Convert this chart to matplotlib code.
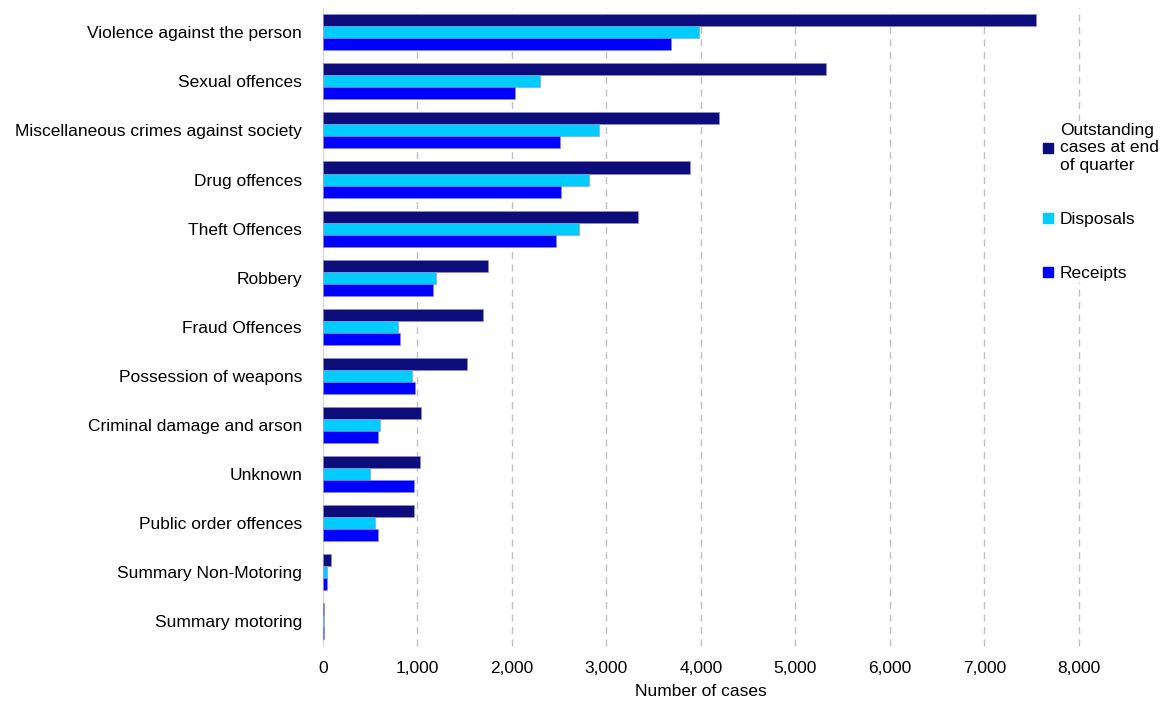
import numpy as np
import matplotlib.pyplot as plt
from matplotlib.lines import Line2D

plt.rcParams['font.family'] = ['Liberation Sans', 'DejaVu Sans']

categories = ["Violence against the person", "Sexual offences",
              "Miscellaneous crimes against society", "Drug offences",
              "Theft Offences", "Robbery", "Fraud Offences",
              "Possession of weapons", "Criminal damage and arson", "Unknown",
              "Public order offences", "Summary Non-Motoring", "Summary motoring"]

outstanding = [7550, 5330, 4195, 3890, 3340, 1745, 1690, 1530, 1040, 1030, 960, 88, 12]
disposals = [3980, 2300, 2925, 2815, 2715, 1195, 790, 940, 600, 500, 550, 40, 10]
receipts = [3685, 2030, 2510, 2525, 2470, 1170, 820, 970, 585, 965, 580, 45, 12]

series_names = ["Outstanding\ncases at end\nof quarter", "Disposals", "Receipts"]
colors = ["#0C0C7A", "#00CCFF", "#0000FF"]

fs = 12.5

fig = plt.figure(figsize=(11.7, 7.02), dpi=100)
ax = fig.add_axes([0.276, 0.080, 0.646, 0.909])

y = np.arange(len(categories))
h = 0.245
for i, (vals, col) in enumerate(zip([outstanding, disposals, receipts], colors)):
    ax.barh(y + (i - 1) * h, vals, height=h, color=col,
            edgecolor="#9090d0", linewidth=0.4, zorder=3)

ax.set_ylim(len(categories) - 0.5, -0.5)
ax.set_xlim(0, 8000)
ax.set_yticks(y)
ax.set_yticklabels(categories, fontsize=fs)
ax.set_xticks(np.arange(0, 8001, 1000))
ax.set_xticklabels([f"{v:,}" for v in range(0, 8001, 1000)], fontsize=fs)
ax.tick_params(axis='both', length=0)
ax.tick_params(axis='y', pad=15)
ax.tick_params(axis='x', pad=11)
ax.set_xlabel("Number of cases", fontsize=fs, labelpad=6)

for s in ["top", "right", "bottom"]:
    ax.spines[s].set_visible(False)
ax.spines["left"].set_color("#D9D9D9")
ax.spines["left"].set_linewidth(1)
ax.grid(axis='x', color="#C0C0C0", linestyle=(0, (5, 4)), linewidth=1, zorder=0)
gls = ax.xaxis.get_gridlines()
gls[0].set_visible(False)
for gl in gls:
    gl.set_clip_on(False)

handles = [Line2D([], [], marker='s', linestyle='none', markersize=7, color=c) for c in colors]
fig.legend(handles, series_names, loc='upper left', bbox_to_anchor=(0.879, 0.840),
           fontsize=fs, frameon=True, edgecolor='none', facecolor='white', framealpha=1,
           labelspacing=2.25, handletextpad=0.2, handlelength=1.0, borderpad=0.1)

fig.savefig("out.png", dpi=100)
